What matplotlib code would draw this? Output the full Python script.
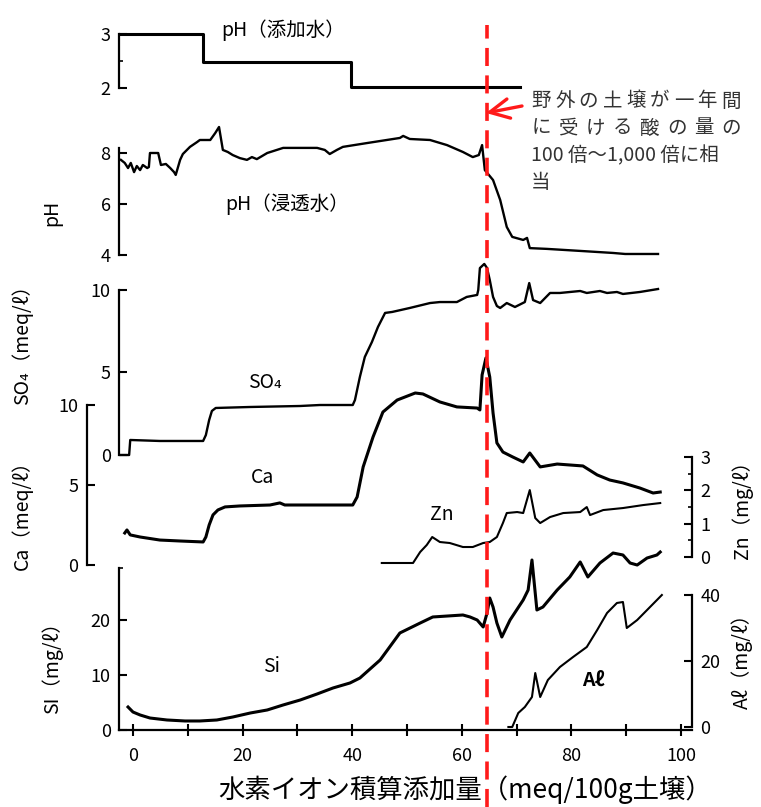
import numpy as np
import matplotlib
matplotlib.use('Agg')
import matplotlib.pyplot as plt

plt.rcParams['font.family'] = ['Noto Sans CJK JP', 'DejaVu Sans']

# ---- data ----
ph_add_x = [-2.3, 12.7, 39.7, 70.6]
ph_add = [3.0, 2.48, 2.02, 2.02]

ph_x = [-2.2, -1.5, -0.9, -0.4, 0.2, 0.7, 1.3, 1.8, 2.6, 2.9, 3.1, 4.6, 5.1, 6.0, 6.8, 7.5, 7.8,
        8.6, 9.1, 10.4, 11.7, 12.2, 14.1, 15.0, 15.7, 16.4, 17.3, 18.2, 19.5, 20.8, 21.7, 22.6,
        24.5, 27.4, 33.6, 35.0, 35.9, 37.2, 38.3, 42.7, 45.1, 48.7, 49.3, 50.5, 54.2, 57.3, 60.2,
        62.0, 63.1, 63.7, 64.2, 65.7, 67.0, 68.2, 69.2, 71.2, 71.9, 72.4, 75.5, 81.6, 87.6, 89.8, 95.8]
ph = [7.73, 7.61, 7.41, 7.61, 7.25, 7.49, 7.33, 7.53, 7.41, 7.45, 8.0, 8.0, 7.53, 7.57, 7.41, 7.25, 7.14,
      7.73, 7.96, 8.24, 8.43, 8.51, 8.51, 8.78, 9.02, 8.12, 8.04, 7.92, 7.80, 7.73, 7.84, 7.76,
      8.0, 8.2, 8.2, 8.12, 7.96, 8.12, 8.24, 8.39, 8.47, 8.59, 8.67, 8.55, 8.51, 8.31, 8.04,
      7.84, 7.92, 8.31, 7.33, 6.94, 6.16, 5.10, 4.71, 4.59, 4.67, 4.27, 4.24, 4.16, 4.08, 4.04, 4.04]

so4_x = [-2.2, -0.7, -0.5, 4.9, 12.8, 13.3, 13.9, 14.4, 15.1, 21.4, 30.5, 34.1, 40.1, 40.5, 41.4,
         42.3, 43.6, 44.7, 46.0, 47.3, 50.5, 54.2, 56.0, 59.1, 60.9, 62.8, 63.0, 63.3, 64.1, 64.6,
         65.1, 65.7, 66.4, 67.0, 68.2, 69.7, 71.5, 72.3, 73.0, 74.3, 76.1, 77.9, 81.6, 82.8, 85.2,
         86.5, 88.3, 89.4, 92.5, 95.8]
so4 = [0.0, 0.0, 0.91, 0.85, 0.85, 1.21, 2.12, 2.67, 2.85, 2.91, 2.97, 3.03, 3.03, 3.33, 4.73,
       5.94, 6.85, 7.76, 8.61, 8.67, 8.91, 9.21, 9.27, 9.27, 9.58, 9.70, 10.0, 11.33, 11.58, 11.33,
       10.61, 9.58, 9.03, 8.91, 9.21, 8.97, 9.27, 10.42, 9.39, 9.21, 9.82, 9.82, 9.94, 9.82, 9.94,
       9.82, 9.88, 9.76, 9.88, 10.06]

ca_x = [-1.5, -1.1, -0.5, 1.3, 4.9, 8.6, 12.8, 13.3, 13.9, 14.6, 15.5, 16.8, 19.5, 25.0, 26.8, 27.7,
        34.1, 40.1, 40.9, 42.0, 43.8, 45.6, 48.2, 51.5, 52.9, 56.0, 59.1, 62.8, 63.3, 63.7, 64.4,
        65.1, 65.7, 66.4, 67.5, 69.3, 71.2, 72.4, 74.3, 77.4, 82.1, 84.7, 87.0, 89.4, 92.5, 94.9, 96.2]
ca = [2.0, 2.19, 1.88, 1.75, 1.56, 1.5, 1.44, 1.75, 2.5, 3.13, 3.44, 3.63, 3.69, 3.75, 3.88, 3.75,
      3.75, 3.75, 4.25, 6.13, 8.0, 9.56, 10.31, 10.75, 10.69, 10.19, 9.88, 9.81, 9.69, 11.88, 12.94,
      11.75, 9.5, 7.63, 7.06, 6.75, 6.44, 7.0, 6.13, 6.31, 6.19, 5.63, 5.31, 5.13, 4.81, 4.5, 4.56]

zn_x = [45.4, 51.1, 52.4, 53.6, 54.6, 56.0, 57.8, 60.2, 62.0, 63.9, 65.1, 66.4, 67.5, 68.2, 70.1,
        71.2, 72.4, 73.4, 74.3, 76.1, 78.5, 81.6, 82.8, 83.4, 85.8, 89.4, 93.1, 96.2]
zn = [-0.18, -0.18, 0.15, 0.36, 0.6, 0.45, 0.42, 0.3, 0.3, 0.42, 0.45, 0.6, 1.02, 1.32, 1.35,
      1.32, 2.01, 1.17, 1.02, 1.2, 1.32, 1.35, 1.5, 1.26, 1.41, 1.47, 1.56, 1.62]

si_x = [-0.9, 0.0, 1.3, 3.1, 6.2, 9.5, 12.2, 15.3, 18.2, 21.4, 24.5, 27.4, 30.5, 33.6, 36.5, 39.6,
        41.4, 45.1, 48.7, 52.4, 54.7, 60.2, 61.5, 62.8, 63.9, 64.6, 65.1, 65.7, 66.4, 67.3, 68.8,
        71.2, 72.1, 72.8, 73.7, 74.8, 77.4, 79.7, 81.6, 83.0, 85.2, 87.6, 89.4, 90.7, 92.0, 93.8,
        95.6, 96.2]
si = [4.18, 3.27, 2.73, 2.18, 1.82, 1.64, 1.64, 1.82, 2.36, 3.09, 3.64, 4.55, 5.45, 6.55, 7.64, 8.55,
      9.45, 12.73, 17.64, 19.45, 20.55, 20.91, 20.55, 20.0, 18.73, 21.27, 24.0, 22.36, 19.45, 16.91, 20.0,
      23.64, 25.45, 30.91, 21.82, 22.36, 25.45, 27.82, 30.55, 27.82, 30.36, 32.18, 31.82, 30.36, 30.0, 31.27,
      31.82, 32.36]

al_x = [68.5, 69.2, 70.3, 71.5, 72.8, 73.4, 74.3, 75.7, 77.9, 80.3, 82.8, 84.7, 86.5, 88.3, 89.4,
        90.1, 92.0, 93.8, 95.6, 96.5]
al = [0.0, 0.0, 4.24, 6.06, 9.09, 16.36, 9.09, 14.24, 18.18, 21.21, 24.24, 29.39, 34.55, 37.58, 37.88,
      30.0, 32.42, 35.45, 38.48, 40.0]

x_major = [0, 20, 40, 60, 80, 100]
x_minor = [10, 30, 50, 70, 90]
marker_x = 64.6

W, H = 761, 807
fig = plt.figure(figsize=(W / 100, H / 100), dpi=100)
RECT = [119 / W, 77 / H, 573 / W, 730 / H]
XLIM = (-2.55, 102.0)
TS = 13


def panel(p0, k):
    # every panel covers the same box, only the y scale differs
    ax = fig.add_axes(RECT)
    ax.set_xlim(*XLIM)
    ax.set_ylim((p0 - 730) / k, p0 / k)
    ax.patch.set_visible(False)
    for s in ax.spines.values():
        s.set_visible(False)
        s.set_linewidth(1.6)
    ax.tick_params(axis='x', which='both', bottom=False, labelbottom=False)
    ax.tick_params(axis='y', which='both', left=False, right=False, labelleft=False, labelright=False)
    return ax


def yaxis(ax, side, lo, hi, ticks, minor=None, pos=None):
    sp = ax.spines[side]
    sp.set_visible(True)
    sp.set_bounds(lo, hi)
    if pos is not None:
        sp.set_position(('data', pos))
    ax.set_yticks(ticks)
    if minor:
        ax.set_yticks(minor, minor=True)
    if side == 'left':
        ax.tick_params(axis='y', which='both', left=True, labelleft=True, direction='in')
    else:
        ax.tick_params(axis='y', which='both', right=True, labelright=True, direction='in')
    ax.tick_params(axis='y', which='major', length=6, width=1.5, pad=6, labelsize=TS)
    ax.tick_params(axis='y', which='minor', length=3, width=1.2)


def label(x, y, s, **kw):
    fig.text(x / W, 1 - y / H, s, ha='center', va='center', **kw)


# pH of added water
ax1 = panel(196, 54)
ax1.plot(ph_add_x, ph_add, color='black', lw=2.2, drawstyle='steps-post')
yaxis(ax1, 'left', 2, 3, [2, 3], minor=[2.5])

# pH of leachate
ax2 = panel(357, 25.5)
ax2.plot(ph_x, ph, color='black', lw=1.7)
yaxis(ax2, 'left', 4, 8.2, [4, 6, 8])

# SO4
ax3 = panel(455, 16.5)
ax3.plot(so4_x, so4, color='black', lw=1.7)
yaxis(ax3, 'left', 0, 10, [0, 5, 10])

# Ca
ax4 = panel(565, 16)
ax4.plot(ca_x, ca, color='black', lw=2.2)
yaxis(ax4, 'left', 0, 10, [0, 5, 10], pos=-8.4)

# Zn
ax5 = panel(557, 33.3)
ax5.plot(zn_x, zn, color='black', lw=1.5)
yaxis(ax5, 'right', 0, 3, [0, 1, 2, 3], minor=[0.5, 1.5, 2.5])

# Al
ax7 = panel(727, 3.3)
ax7.plot(al_x, al, color='black', lw=1.5)
yaxis(ax7, 'right', 0, 40, [0, 20, 40])

# Si (carries the x axis)
ax6 = panel(730, 5.5)
ax6.plot(si_x, si, color='black', lw=2.2)
yaxis(ax6, 'left', 0, 29.5, [0, 10, 20], minor=[29.5])
ax6.spines['bottom'].set_visible(True)
ax6.set_xticks(x_major)
ax6.set_xticks(x_minor, minor=True)
ax6.tick_params(axis='x', which='both', bottom=True, direction='inout')
ax6.tick_params(axis='x', which='major', labelbottom=True, length=8, width=1.5, pad=8, labelsize=TS)
ax6.tick_params(axis='x', which='minor', length=8, width=1.5)

# red dashed marker line and arrow
ax6.axvline(marker_x, ymin=-77 / 730, ymax=705 / 730, color='#ff1a1a', lw=2.6,
            linestyle=(0, (5, 2.6)), clip_on=False, zorder=5)
ax6.annotate('', xy=(486 / W, 1 - 113 / H), xytext=(522 / W, 1 - 106 / H),
             xycoords='figure fraction', textcoords='figure fraction',
             arrowprops=dict(arrowstyle='->,head_length=0.7,head_width=0.35', color='#ff1a1a',
                             lw=2.4, shrinkA=0, shrinkB=0, mutation_scale=20))

# annotation text, spread across its box like the original
note_lines = ['野外の土壌が一年間', 'に受ける酸の量の']
for row, line in enumerate(note_lines):
    n = len(line)
    for i, ch in enumerate(line):
        label(541 + i * (190 / (n - 1)), 101 + row * 27, ch, fontsize=14, color='#333333')
fig.text(531 / W, 1 - 156 / H, '100 倍〜1,000 倍に相', ha='left', va='center', fontsize=14, color='#333333')
label(541, 182, '当', fontsize=14, color='#333333')

# series labels
label(283, 30, 'pH（添加水）', fontsize=14)
label(287, 204, 'pH（浸透水）', fontsize=14)
label(265, 383, 'SO₄', fontsize=14)
label(262, 478, 'Ca', fontsize=14)
label(442, 515, 'Zn', fontsize=14)
label(272, 667, 'Si', fontsize=14)
label(593, 680, 'Aℓ', fontsize=14, fontweight='bold')

# axis titles
label(52, 213, 'pH', fontsize=14, rotation=90)
label(22, 340, 'SO₄（meq/ℓ）', fontsize=14, rotation=90)
label(22, 510, 'Ca（meq/ℓ）', fontsize=14, rotation=90)
label(52, 663, 'SI（mg/ℓ）', fontsize=14, rotation=90)
label(742, 505, 'Zn（mg/ℓ）', fontsize=14, rotation=90)
label(742, 656, 'Aℓ（mg/ℓ）', fontsize=14, rotation=90)
label(465, 790, '水素イオン積算添加量（meq/100g土壌）', fontsize=19)

fig.savefig('out.png', dpi=100)
